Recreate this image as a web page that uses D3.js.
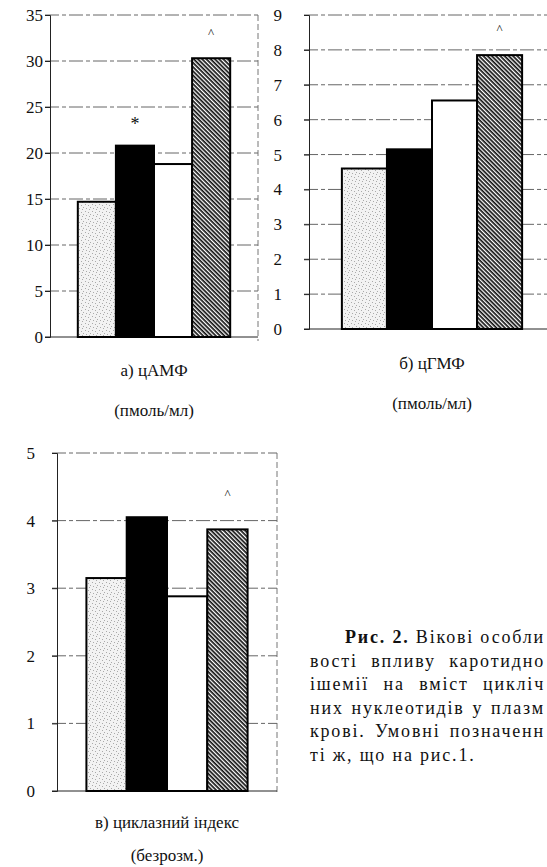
<!DOCTYPE html>
<html>
<head>
<meta charset="utf-8">
<script src="https://cdn.jsdelivr.net/npm/d3@7.9.0/dist/d3.min.js"></script>
<style>
  html, body { margin: 0; padding: 0; background: #fff; }
  svg { display: block; }
</style>
</head>
<body>
<svg id="chart" width="547" height="867"></svg>
<script>
const FONT = "'Liberation Serif', 'DejaVu Serif', 'Times New Roman', serif";

// groups (legend is in Fig. 1)
const groups = ["g1", "g2", "g3", "g4"];

// а) цАМФ
const campValues = [14.7, 20.8, 18.8, 30.3];
const campMarks = ["", "*", "", "^"];
const campTicks = [0, 5, 10, 15, 20, 25, 30, 35];

// б) цГМФ
const cgmpValues = [4.6, 5.15, 6.55, 7.85];
const cgmpMarks = ["", "", "", "^"];
const cgmpTicks = [0, 1, 2, 3, 4, 5, 6, 7, 8, 9];

// в) циклазний індекс
const indexValues = [3.15, 4.05, 2.88, 3.87];
const indexMarks = ["", "", "", "^"];
const indexTicks = [0, 1, 2, 3, 4, 5];

// caption as far as it is visible on the page
const captionHead = ["Рис. 2.", " Вікові особли"];
const captionLines = [
    "вості впливу каротидно",
    "ішемії на вміст цикліч",
    "них нуклеотидів у плазм",
    "крові. Умовні позначенн",
    "ті ж, що на рис.1."
];

const svg = d3.select('#chart')
    .attr('font-family', FONT)
    .style('font-family', FONT);
const defs = svg.append('defs');

// stippled fill
const stip = defs.append('pattern')
    .attr('id', 'stipple')
    .attr('patternUnits', 'userSpaceOnUse')
    .attr('width', 7).attr('height', 7);
stip.append('rect').attr('width', 7).attr('height', 7).attr('fill', '#f2f2f2');
[[1, 1], [4, 2], [2, 5], [6, 4], [5, 6]].forEach(([x, y]) => {
    stip.append('rect').attr('x', x).attr('y', y).attr('width', 1).attr('height', 1).attr('fill', '#aaa');
});

// diagonal hatch, lines running down to the right
const hatch = defs.append('pattern')
    .attr('id', 'hatch')
    .attr('patternUnits', 'userSpaceOnUse')
    .attr('width', 3).attr('height', 3)
    .attr('patternTransform', 'rotate(45)');
hatch.append('rect').attr('width', 3).attr('height', 3).attr('fill', '#fff');
hatch.append('rect').attr('width', 3).attr('height', 1.7).attr('fill', '#111');

const fills = d3.scaleOrdinal()
    .domain(groups)
    .range(['url(#stipple)', '#000', '#fff', 'url(#hatch)']);

function drawChart(cfg) {
    const { left, right, top, bottom, values, marks, ticks, labelGap } = cfg;
    const g = svg.append('g');

    const x = d3.scaleBand()
        .domain(groups)
        .range([left, right])
        .paddingInner(0)
        .paddingOuter(0.73);

    const y = d3.scaleLinear()
        .domain([0, d3.max(ticks)])
        .range([bottom, top]);

    // gridlines
    g.append('g')
        .selectAll('line')
        .data(ticks.filter(t => t > 0))
        .join('line')
        .attr('x1', left - 5)
        .attr('x2', right)
        .attr('y1', d => y(d))
        .attr('y2', d => y(d))
        .attr('stroke', '#555')
        .attr('stroke-width', 0.9)
        .attr('stroke-dasharray', '14,3,4,3');

    // frame right
    g.append('line')
        .attr('x1', right).attr('x2', right)
        .attr('y1', top).attr('y2', bottom + 4)
        .attr('stroke', '#666')
        .attr('stroke-width', 0.9)
        .attr('stroke-dasharray', '6,3');

    // y axis
    const yAxis = g.append('g')
        .attr('transform', `translate(${left},0)`)
        .call(d3.axisLeft(y).tickValues(ticks).tickFormat(d3.format('d')).tickSize(5).tickPadding(labelGap));
    yAxis.attr('font-family', FONT).attr('font-size', 17);
    yAxis.select('.domain').attr('stroke', '#222').attr('stroke-width', 1);
    yAxis.selectAll('.tick line').attr('stroke', '#222');
    yAxis.selectAll('text').attr('fill', '#111');

    // bottom axis line
    g.append('line')
        .attr('x1', left - 5).attr('x2', right)
        .attr('y1', bottom).attr('y2', bottom)
        .attr('stroke', '#222')
        .attr('stroke-width', 1);

    // bars
    g.append('g')
        .selectAll('rect')
        .data(groups)
        .join('rect')
        .attr('x', d => x(d))
        .attr('y', (d, i) => y(values[i]))
        .attr('width', x.bandwidth())
        .attr('height', (d, i) => bottom - y(values[i]))
        .attr('fill', d => fills(d))
        .attr('stroke', '#000')
        .attr('stroke-width', 2);

    // significance marks
    g.append('g')
        .selectAll('text')
        .data(groups)
        .join('text')
        .attr('x', d => x(d) + x.bandwidth() / 2)
        .attr('y', (d, i) => marks[i] === '*' ? y(values[i]) - 16 : top + cfg.caretY)
        .attr('text-anchor', 'middle')
        .attr('fill', '#111')
        .attr('font-size', (d, i) => marks[i] === '*' ? 18 : 13)
        .text((d, i) => marks[i]);

    // titles
    g.selectAll('.ttl')
        .data(cfg.titles)
        .join('text')
        .attr('class', 'ttl')
        .attr('x', (left + Math.min(right, 555)) / 2)
        .attr('y', (d, i) => cfg.titleY + i * cfg.titleStep)
        .attr('text-anchor', 'middle')
        .attr('fill', '#111')
        .attr('font-size', 17)
        .text(d => d);
}

drawChart({
    left: 50, right: 258, top: 15, bottom: 337,
    values: campValues, marks: campMarks, ticks: campTicks,
    labelGap: 2, caretY: 22,
    titles: ["а) цАМФ", "(пмоль/мл)"], titleY: 376, titleStep: 40
});

drawChart({
    left: 309, right: 555, top: 15, bottom: 329,
    values: cgmpValues, marks: cgmpMarks, ticks: cgmpTicks,
    labelGap: 22, caretY: 18,
    titles: ["б) цГМФ", "(пмоль/мл)"], titleY: 369, titleStep: 40
});

drawChart({
    left: 57, right: 277, top: 453, bottom: 791,
    values: indexValues, marks: indexMarks, ticks: indexTicks,
    labelGap: 17, caretY: 45,
    titles: ["в) циклазний індекс", "(безрозм.)"], titleY: 828, titleStep: 33
});

// caption, justified like the printed column
const capLeft = 310, capRight = 545, capSize = 18;

const cap = svg.append('text')
    .attr('x', capLeft + 35)
    .attr('y', 643)
    .attr('fill', '#111')
    .attr('font-size', capSize);
cap.append('tspan').attr('font-weight', 'bold').text(captionHead[0]);
cap.append('tspan').text(captionHead[1]);

const capBody = svg.append('g')
    .selectAll('text')
    .data(captionLines)
    .join('text')
    .attr('x', capLeft)
    .attr('y', (d, i) => 667 + i * 23.4)
    .attr('fill', '#111')
    .attr('font-size', capSize)
    .text(d => d);

// one letter spacing for the whole column, so the widest line just fits
const fullLines = [cap.node()].concat(capBody.nodes().slice(0, -1));
const widths = fullLines.map((n, i) => (i === 0 ? capRight - capLeft - 35 : capRight - capLeft));
const letterSp = Math.max(0, d3.min(fullLines, (n, i) =>
    (widths[i] - n.getComputedTextLength()) / n.textContent.length));
cap.attr('letter-spacing', letterSp);
capBody.attr('letter-spacing', letterSp);

fullLines.forEach((n, i) => {
    const gaps = n.textContent.split(' ').length - 1;
    const extra = widths[i] - n.getComputedTextLength();
    if (gaps > 0 && extra > 0) d3.select(n).attr('word-spacing', extra / gaps);
});
</script>
</body>
</html>
